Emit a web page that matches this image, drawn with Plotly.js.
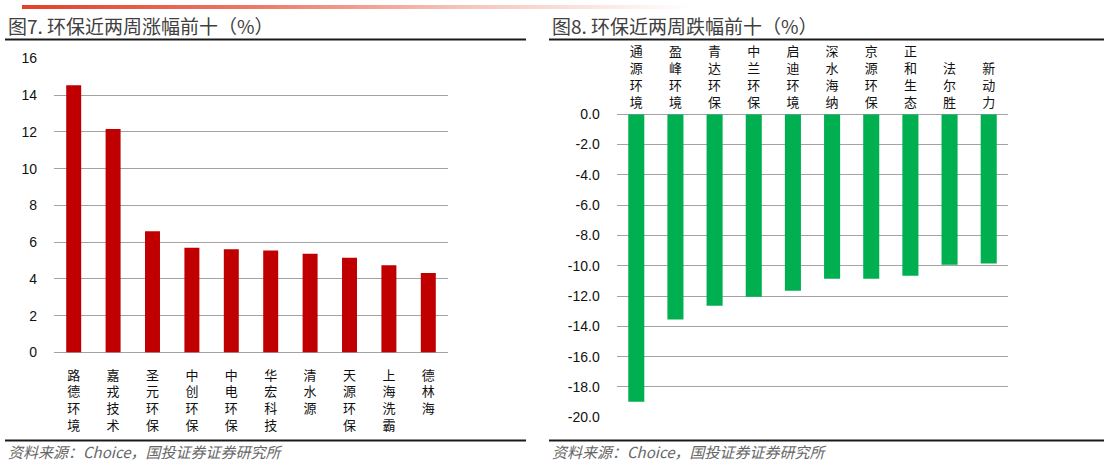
<!DOCTYPE html>
<html>
<head>
<meta charset="utf-8">
<script src="https://cdn.plot.ly/plotly-3.0.1.min.js"></script>
<style>
  html, body { margin: 0; padding: 0; background: #fff; }
  #wrap { position: relative; width: 1104px; height: 464px; overflow: hidden; }
  #chart { position: absolute; left: 0; top: 0; width: 1104px; height: 464px; }
  /* red header rule, fading out to the right */
  #rule {
    position: absolute; left: 22px; top: 5px; width: 670px; height: 4px;
    background: linear-gradient(to right, #e3402a 0%, #ec7a66 35%, #f5c2b8 65%, rgba(255,255,255,0) 100%);
    z-index: 2;
  }
</style>
</head>
<body>
<div id="wrap">
  <div id="chart"></div>
  <div id="rule"></div>
</div>
<script>
// ── Data ─────────────────────────────────────────────────────
const UP_NAMES  = ['路德环境', '嘉戎技术', '圣元环保', '中创环保', '中电环保',
                   '华宏科技', '清水源', '天源环保', '上海洗霸', '德林海'];
const UP_VALUES = [14.54, 12.15, 6.6, 5.70, 5.61, 5.55, 5.37, 5.15, 4.75, 4.33];

const DOWN_NAMES  = ['通源环境', '盈峰环境', '青达环保', '中兰环保', '启迪环境',
                     '深水海纳', '京源环保', '正和生态', '法尔胜', '新动力'];
const DOWN_VALUES = [-18.97, -13.54, -12.64, -12.04, -11.65, -10.86, -10.86, -10.66, -9.93, -9.85];

const UP_TICKS     = [0, 2, 4, 6, 8, 10, 12, 14, 16];
const DOWN_TICKS   = [0, -2, -4, -6, -8, -10, -12, -14, -16, -18, -20];
const DOWN_TICKTXT = DOWN_TICKS.map(v => (v === 0 ? '0.0' : '-' + Math.abs(v).toFixed(1)));

const TITLE_UP   = '图7. 环保近两周涨幅前十（%）';
const TITLE_DOWN = '图8. 环保近两周跌幅前十（%）';
const SOURCE     = '资料来源：Choice，国投证券证券研究所';

// ── Colours / fonts ──────────────────────────────────────────
const C = {
  red:   '#c00000',
  green: '#00b050',
  grid:  '#a3a3a3',
  rule:  '#1a1a1a',
  title: '#404040',
  src:   '#666666',
  tick:  '#111111',
};
const CJK  = '"Noto Sans CJK SC", "Noto Sans", sans-serif';
const NUM  = '"Liberation Sans", Arial, sans-serif';

const W = 1104, H = 464;
const px = x => x / W;           // pixel -> paper x
const py = y => 1 - y / H;       // pixel -> paper y

// vertical label: one character per line
const vert = s => s.split('').join('<br>');

// ── Traces ───────────────────────────────────────────────────
const traces = [
  {
    type: 'bar', x: UP_NAMES, y: UP_VALUES, xaxis: 'x', yaxis: 'y',
    width: 0.38, marker: { color: C.red }, hoverinfo: 'skip',
  },
  {
    type: 'bar', x: DOWN_NAMES, y: DOWN_VALUES, xaxis: 'x2', yaxis: 'y2',
    width: 0.41, marker: { color: C.green }, hoverinfo: 'skip',
  },
];

const catAxis = (domain, names, side, standoff) => ({
  domain, side,
  type: 'category',
  tickmode: 'array',
  tickvals: names,
  ticktext: names.map(vert),
  tickfont: { family: CJK, size: 13, color: C.tick },
  ticks: '', showgrid: false, showline: false, zeroline: false,
  ticklabelstandoff: standoff,
  fixedrange: true,
});

const valAxis = (domain, range, vals, text, anchor) => ({
  domain, range, anchor,
  tickmode: 'array', tickvals: vals, ticktext: text,
  tickfont: { family: NUM, size: 14, color: C.tick },
  ticks: '', ticklabelstandoff: 16,
  showgrid: true, gridcolor: C.grid, gridwidth: 1,
  zeroline: true, zerolinecolor: C.grid, zerolinewidth: 1,
  showline: false, fixedrange: true,
});

const layout = {
  width: W, height: H,
  margin: { t: 0, r: 0, b: 0, l: 0 },
  paper_bgcolor: '#fff', plot_bgcolor: 'rgba(0,0,0,0)',
  showlegend: false,
  xaxis:  { ...catAxis([px(54), px(448)], UP_NAMES, 'bottom', 13), anchor: 'y' },
  yaxis:  valAxis([py(352.5), py(58.3)], [0, 16], UP_TICKS, UP_TICKS.map(String), 'x'),
  xaxis2: { ...catAxis([px(616.7), px(1008.3)], DOWN_NAMES, 'top', 4), anchor: 'y2' },
  yaxis2: valAxis([py(417.3), py(114.2)], [-20, 0], DOWN_TICKS, DOWN_TICKTXT, 'x2'),
  shapes: [
    // rules under the titles and above the sources
    { type: 'line', xref: 'paper', yref: 'paper', x0: px(5),   x1: px(526), y0: py(39.5), y1: py(39.5), line: { color: C.rule, width: 2 } },
    { type: 'line', xref: 'paper', yref: 'paper', x0: px(549), x1: px(1104), y0: py(39.5), y1: py(39.5), line: { color: C.rule, width: 2 } },
    { type: 'line', xref: 'paper', yref: 'paper', x0: px(5),   x1: px(526), y0: py(440.5), y1: py(440.5), line: { color: C.rule, width: 2 } },
    { type: 'line', xref: 'paper', yref: 'paper', x0: px(549), x1: px(1104), y0: py(440.5), y1: py(440.5), line: { color: C.rule, width: 2 } },
  ],
  annotations: [
    { text: TITLE_UP,   xref: 'paper', yref: 'paper', x: px(6),   y: py(26), xanchor: 'left', yanchor: 'middle', showarrow: false,
      font: { family: CJK, size: 19, color: C.title } },
    { text: TITLE_DOWN, xref: 'paper', yref: 'paper', x: px(550), y: py(26), xanchor: 'left', yanchor: 'middle', showarrow: false,
      font: { family: CJK, size: 19, color: C.title } },
    { text: '<i>' + SOURCE + '</i>', xref: 'paper', yref: 'paper', x: px(6),   y: py(451.5), xanchor: 'left', yanchor: 'middle', showarrow: false,
      font: { family: CJK, size: 15, color: C.src } },
    { text: '<i>' + SOURCE + '</i>', xref: 'paper', yref: 'paper', x: px(550), y: py(451.5), xanchor: 'left', yanchor: 'middle', showarrow: false,
      font: { family: CJK, size: 15, color: C.src } },
  ],
};

Plotly.newPlot('chart', traces, layout, { displayModeBar: false, responsive: false, staticPlot: true });
</script>
</body>
</html>
